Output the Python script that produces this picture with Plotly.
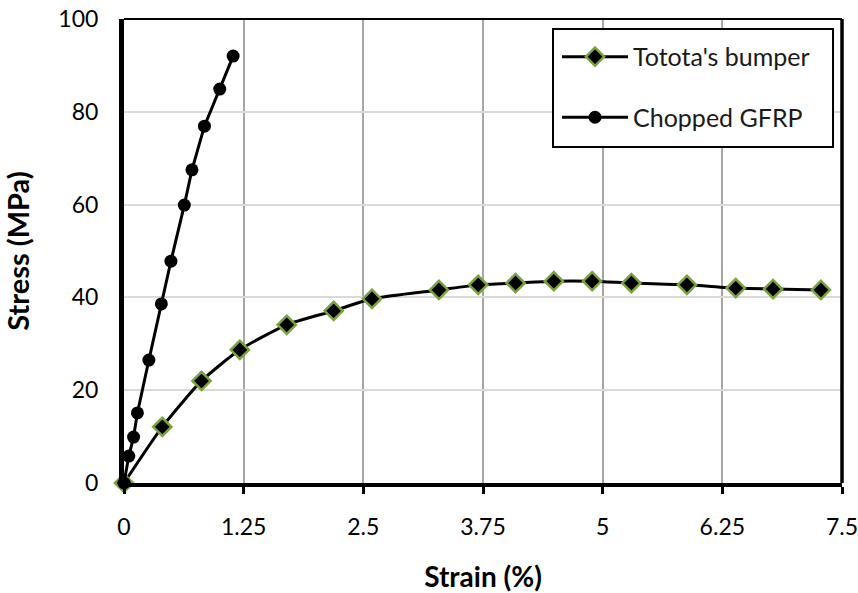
import plotly.graph_objects as go

# Data
bumper_strain = [0, 0.40, 0.81, 1.21, 1.70, 2.19, 2.59, 3.29, 3.70, 4.09, 4.49, 4.89, 5.30, 5.88, 6.39, 6.78, 7.28]
bumper_stress = [0, 12.1, 22.0, 28.7, 34.1, 37.1, 39.7, 41.6, 42.7, 43.1, 43.5, 43.5, 43.1, 42.7, 42.0, 41.8, 41.6]

gfrp_strain = [0, 0.05, 0.10, 0.14, 0.26, 0.39, 0.49, 0.63, 0.71, 0.84, 1.00, 1.14]
gfrp_stress = [0, 5.8, 9.9, 15.1, 26.5, 38.6, 47.8, 59.9, 67.5, 76.9, 84.9, 92.0]

x_ticks = [0, 1.25, 2.5, 3.75, 5, 6.25, 7.5]
x_tick_labels = ["0", "1.25", "2.5", "3.75", "5", "6.25", "7.5"]
y_ticks = [0, 20, 40, 60, 80, 100]

FONT = "Lato"

fig = go.Figure()
fig.add_trace(go.Scatter(
    x=bumper_strain, y=bumper_stress, name="Totota's bumper",
    mode="lines+markers", legendgroup="a",
    line=dict(color="black", width=3, shape="spline", smoothing=0.6),
    marker=dict(symbol="diamond", size=14, color="black",
                line=dict(color="#7aa33e", width=2.5)),
    cliponaxis=False,
))
fig.add_trace(go.Scatter(
    x=gfrp_strain, y=gfrp_stress, name="Chopped GFRP",
    mode="lines+markers", legendgroup="b",
    line=dict(color="black", width=3),
    marker=dict(symbol="circle", size=13, color="black"),
    cliponaxis=False,
))

fig.update_layout(
    width=858, height=593,
    margin=dict(l=124, r=16, t=19, b=110),
    paper_bgcolor="white", plot_bgcolor="white",
    font=dict(family=FONT, color="black", size=23),
    showlegend=True,
    legend=dict(
        x=0.6031, y=0.9677, xanchor="left", yanchor="top",
        bgcolor="rgba(0,0,0,0)", borderwidth=0,
        font=dict(family=FONT, size=25, color="#1a1a1a"),
        traceorder="grouped", tracegroupgap=25,
        itemwidth=66,
    ),
    xaxis=dict(
        range=[0, 7.5], tickvals=x_ticks, ticktext=x_tick_labels,
        showgrid=True, gridcolor="#a6a6a6", gridwidth=1.5,
        showline=True, linecolor="black", linewidth=4,
        ticks="outside", ticklen=7, tickwidth=3, tickcolor="black",
        ticklabelstandoff=13, ticklabeloverflow="allow",
        zeroline=False, automargin=False,
        title=dict(text="<b>Strain (%)</b>", font=dict(size=28), standoff=32),
    ),
    yaxis=dict(
        range=[0, 100], tickvals=y_ticks,
        showgrid=True, gridcolor="#d9d9d9", gridwidth=1.5,
        showline=True, linecolor="black", linewidth=5,
        ticks="", ticklabelstandoff=16, ticklabeloverflow="allow",
        zeroline=False, automargin=False,
        title=dict(text="<b>Stress (MPa)</b>", font=dict(size=29), standoff=26),
    ),
)

# legend frame (white box with black border)
fig.add_shape(type="rect", xref="paper", yref="paper",
              x0=0.5975, x1=0.9875, y0=0.7241, y1=0.9784,
              fillcolor="white", line=dict(color="black", width=2), layer="above")
# top and right frame lines
fig.add_shape(type="line", xref="paper", yref="paper", x0=0, x1=1, y0=1, y1=1,
              line=dict(color="black", width=2))
fig.add_shape(type="line", xref="paper", yref="paper", x0=1, x1=1, y0=0, y1=1,
              line=dict(color="black", width=3.5))

# remove the browser's default 8px body margin so the figure fills the window exactly
fig.write_html("out.html", config={"displayModeBar": False},
               post_script="document.body.style.margin='0';")
